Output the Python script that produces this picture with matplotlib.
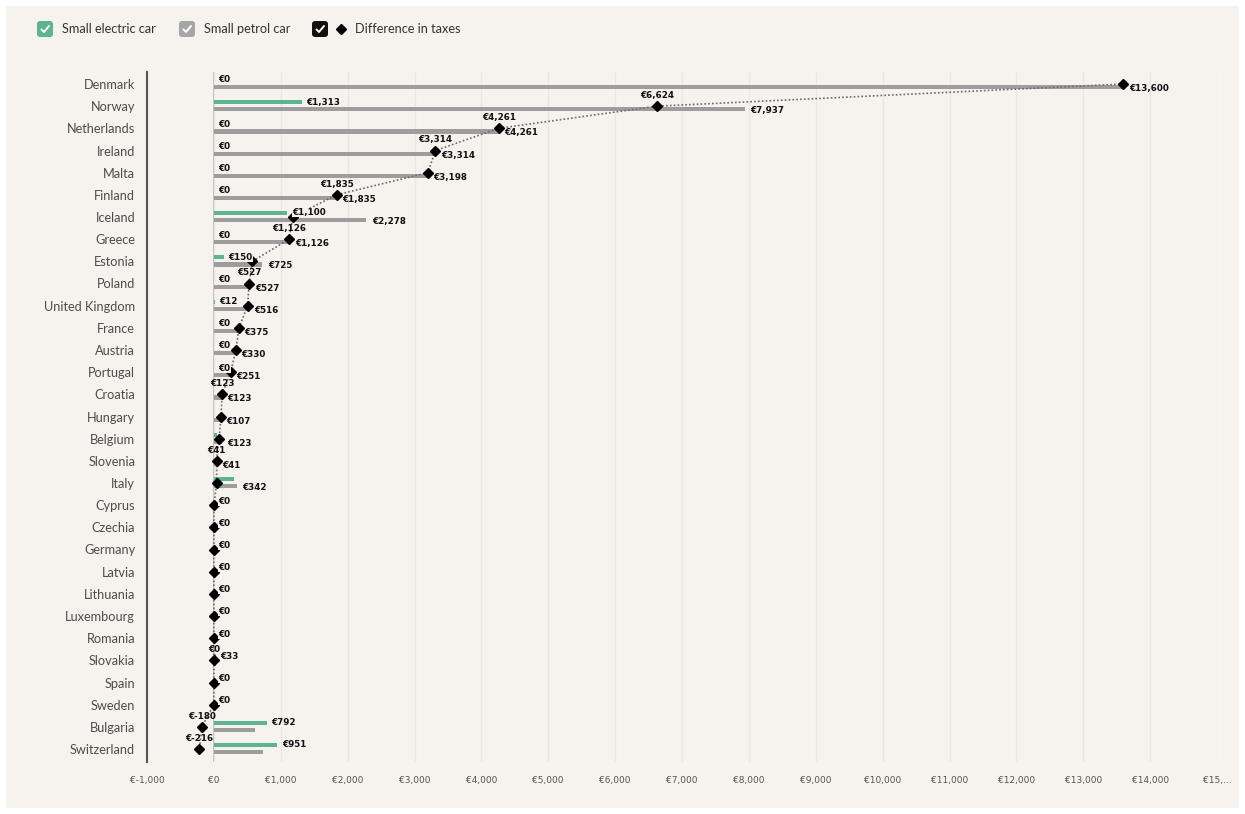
import numpy as np
import matplotlib
matplotlib.use("Agg")
import matplotlib.pyplot as plt
from matplotlib.patches import Rectangle, FancyBboxPatch
from matplotlib.lines import Line2D

countries = ["Denmark", "Norway", "Netherlands", "Ireland", "Malta", "Finland", "Iceland",
             "Greece", "Estonia", "Poland", "United Kingdom", "France", "Austria", "Portugal",
             "Croatia", "Hungary", "Belgium", "Slovenia", "Italy", "Cyprus", "Czechia",
             "Germany", "Latvia", "Lithuania", "Luxembourg", "Romania", "Slovakia", "Spain",
             "Sweden", "Bulgaria", "Switzerland"]
electric = [0, 1313, 0, 0, 0, 0, 1100, 0, 150, 0, 12, 0, 0, 0, 0, 0, 45, 0, 300,
            0, 0, 0, 0, 0, 0, 0, 33, 0, 0, 792, 951]
petrol = [13600, 7937, 4261, 3314, 3198, 1835, 2278, 1126, 725, 527, 516, 375, 330, 251,
          123, 107, 123, 41, 342, 0, 0, 0, 0, 0, 0, 0, 33, 0, 0, 612, 735]
difference = [p - e for p, e in zip(petrol, electric)]
show_electric_label = [1, 1, 1, 1, 1, 1, 1, 1, 1, 1, 1, 1, 1, 1, 0, 0, 0, 0, 0,
                       1, 1, 1, 1, 1, 1, 1, 1, 1, 1, 1, 1]
show_petrol_label = [1, 1, 1, 1, 1, 1, 1, 1, 1, 1, 1, 1, 1, 1, 1, 1, 1, 1, 1,
                     0, 0, 0, 0, 0, 0, 0, 0, 0, 0, 0, 0]
show_diff_label = [0, 1, 1, 1, 0, 1, 0, 1, 0, 1, 0, 0, 0, 0, 1, 0, 0, 1, 0,
                   0, 0, 0, 0, 0, 0, 0, 1, 0, 0, 1, 1]
x_ticks = list(range(-1000, 15001, 1000))
x_tick_labels = ["€-1,000", "€0", "€1,000", "€2,000", "€3,000", "€4,000", "€5,000", "€6,000",
                 "€7,000", "€8,000", "€9,000", "€10,000", "€11,000", "€12,000", "€13,000",
                 "€14,000", "€15,..."]
legend_labels = ["Small electric car", "Small petrol car", "Difference in taxes"]

GREEN = "#5cb58e"
GREY = "#9d9d9d"
BG = "#f6f2ee"

W, H = 1245, 814
fig = plt.figure(figsize=(W / 100, H / 100), dpi=100)
fig.patch.set_facecolor("white")

bg = fig.add_axes([0, 0, 1, 1], zorder=-10)
bg.set_xlim(0, W)
bg.set_ylim(H, 0)
bg.axis("off")
bg.add_patch(Rectangle((6, 6), W - 12, H - 12, facecolor=BG, edgecolor="none"))

def euro(v):
    return "€{:,}".format(int(v))

n = len(countries)
y = np.arange(n)
px_per_row = (749 - 84) / (n - 1)
top_px, bot_px = 72, 762
ylim_top = -(84 - top_px) / px_per_row
ylim_bot = (n - 1) + (bot_px - 749) / px_per_row

ax = fig.add_axes([147 / W, 1 - bot_px / H, (1217 - 147) / W, (bot_px - top_px) / H])
ax.set_facecolor("none")
ax.set_xlim(-1000, 15000)
ax.set_ylim(ylim_bot, ylim_top)

bh = 4.2 / px_per_row
g_off = -4.0 / px_per_row
p_off = 3.2 / px_per_row

ax.barh(y + g_off, electric, height=bh, color=GREEN, zorder=3)
ax.barh(y + p_off, petrol, height=bh, color=GREY, zorder=3)
ax.plot(difference, y, linestyle=(0, (1, 1.3)), color="#6a6a6a", lw=1.2, zorder=4)
ax.plot(difference, y, linestyle="none", marker="D", markersize=5.5, color="black", zorder=5)

lab_kw = dict(fontsize=6.3, fontweight="bold", color="#111111", family="DejaVu Sans", zorder=6)
for i in range(n):
    if show_electric_label[i]:
        ax.annotate(euro(electric[i]), (electric[i], y[i]), xytext=(3.3, 2.9),
                    textcoords="offset points", ha="left", va="center",
                    bbox=dict(boxstyle="square,pad=0", facecolor=BG, edgecolor="none"),
                    **lab_kw)
    if show_petrol_label[i]:
        ax.annotate(euro(petrol[i]), (petrol[i], y[i]), xytext=(4.0, -3.3),
                    textcoords="offset points", ha="left", va="center", **lab_kw)
    if show_diff_label[i]:
        ax.annotate(euro(difference[i]), (difference[i], y[i]), xytext=(0, 7.6),
                    textcoords="offset points", ha="center", va="center", **lab_kw)

ax.set_xticks(x_ticks)
ax.set_xticklabels(x_tick_labels, fontsize=6.5, color="#555555")
ax.tick_params(axis="x", length=0, pad=10)
ax.set_yticks(y)
ax.set_yticklabels(countries, fontsize=9.2, color="#4d4d4d", family="Lato")
ax.tick_params(axis="y", length=0, pad=8.5)
ax.grid(axis="x", color="#ebe6e1", lw=0.9, zorder=0)
ax.axvline(0, color="#b8b3ae", lw=1.2, zorder=1)
for s in ["top", "right", "bottom"]:
    ax.spines[s].set_visible(False)
ax.spines["left"].set_color("#555555")
ax.spines["left"].set_linewidth(1.5)

def checkbox(x0, color):
    bg.add_patch(FancyBboxPatch((x0 + 2, 23), 12, 12, boxstyle="round,pad=2,rounding_size=3",
                                facecolor=color, edgecolor="none"))
    bg.add_line(Line2D([x0 + 4.5, x0 + 7, x0 + 12], [29.5, 32, 26], color="white", lw=1.4,
                       solid_capstyle="round"))

checkbox(37, GREEN)
bg.text(62, 29, legend_labels[0], fontsize=9.2, color="#333333", family="Lato", va="center")
checkbox(179, "#a6a6a6")
bg.text(204, 29, legend_labels[1], fontsize=9.2, color="#333333", family="Lato", va="center")
checkbox(312, "#111111")
bg.plot([341], [28.5], marker="D", markersize=5.5, color="black")
bg.text(355, 29, legend_labels[2], fontsize=9.2, color="#333333", family="Lato", va="center")

fig.savefig("out.png", dpi=100, facecolor=fig.get_facecolor())
